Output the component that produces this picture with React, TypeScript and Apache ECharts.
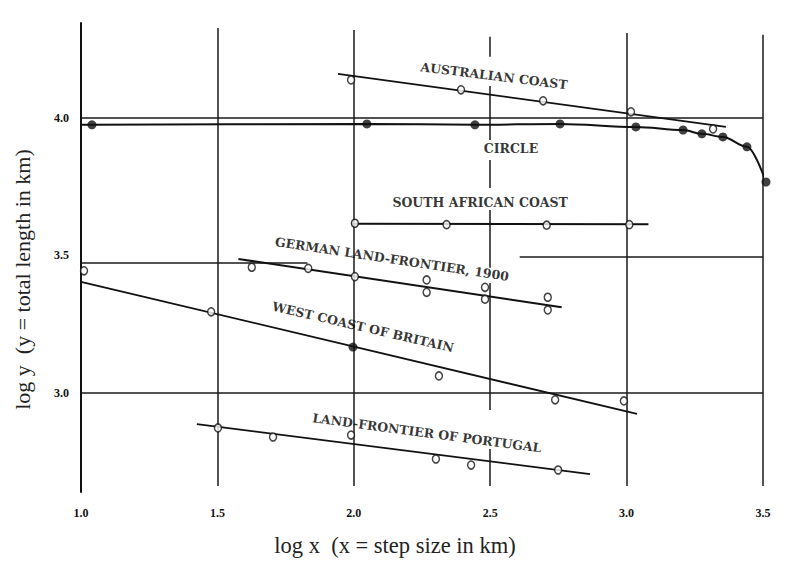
import React, { useEffect, useRef } from "react";
import * as echarts from "echarts";

// ---- axis ticks ----
const xTicks = [1.0, 1.5, 2.0, 2.5, 3.0, 3.5];
const yTicks = [3.0, 3.5, 4.0];

// ---- hand-drawn grid segments ----
// vertical: [x, yFrom, yTo]
const verticalGrid: number[][] = [
  [1.5, 2.662, 4.327],
  [2.0, 2.662, 4.32],
  [3.0, 2.662, 4.309],
  [3.5, 2.662, 4.302],
  [2.5, 4.222, 4.295],
  [2.5, 3.92, 4.116],
  [2.5, 3.745, 3.847],
  [2.5, 3.455, 3.665],
  [2.5, 2.938, 3.4],
  [2.5, 2.662, 2.796],
];
// horizontal: [y, xFrom, xTo]
const horizontalGrid: number[][] = [
  [4.0, 1.0, 3.5],
  [3.0, 1.0, 3.5],
  [3.475, 1.0, 1.83],
  [3.495, 2.608, 3.5],
];

// ---- Australian coast ----
const australianPoints = [
  [1.99, 4.138],
  [2.393, 4.102],
  [2.694, 4.062],
  [3.016, 4.022],
  [3.317, 3.96],
];
const australianFit = [
  [1.942, 4.16],
  [3.364, 3.967],
];

// ---- Circle ----
const circlePoints = [
  [1.04, 3.975],
  [2.048, 3.978],
  [2.444, 3.975],
  [2.756, 3.978],
  [3.034, 3.967],
  [3.207, 3.956],
  [3.276, 3.942],
  [3.353, 3.931],
  [3.441, 3.895],
  [3.511, 3.767],
];
const circleCurve = [[1.0, 3.975], ...circlePoints];

// ---- South African coast ----
const southAfricanPoints = [
  [2.004, 3.617],
  [2.34, 3.612],
  [2.707, 3.61],
  [3.01, 3.612],
];
const southAfricanFit = [
  [1.99, 3.615],
  [3.08, 3.613],
];

// ---- German land-frontier, 1900 ----
const germanPoints = [
  [1.626, 3.457],
  [1.833, 3.453],
  [2.004, 3.423],
  [2.267, 3.411],
  [2.267, 3.366],
  [2.481, 3.384],
  [2.481, 3.341],
  [2.711, 3.348],
  [2.711, 3.302],
];
const germanFit = [
  [1.577, 3.487],
  [2.762, 3.312],
];

// ---- West coast of Britain ----
const britainOpen = [
  [1.011, 3.444],
  [1.477, 3.295],
  [2.312, 3.062],
  [2.738, 2.975],
  [2.99, 2.971],
];
const britainFilled = [[1.997, 3.167]];
const britainFit = [
  [1.0, 3.404],
  [3.038, 2.924],
];

// ---- Land-frontier of Portugal ----
const portugalPoints = [
  [1.502, 2.873],
  [1.704, 2.84],
  [1.99, 2.847],
  [2.301, 2.76],
  [2.43, 2.738],
  [2.749, 2.72],
];
const portugalFit = [
  [1.425, 2.887],
  [2.866, 2.705],
];

// ---- curve labels ----
const curveLabels = [
  { name: "AUSTRALIAN COAST", at: [2.514, 4.153], rot: -7 },
  { name: "CIRCLE", at: [2.576, 3.887], rot: 0 },
  { name: "SOUTH AFRICAN COAST", at: [2.463, 3.691], rot: 0 },
  { name: "GERMAN LAND-FRONTIER, 1900", at: [2.14, 3.487], rot: -8.5 },
  { name: "WEST COAST OF BRITAIN", at: [2.034, 3.24], rot: -13 },
  { name: "LAND-FRONTIER OF PORTUGAL", at: [2.268, 2.855], rot: -7.5 },
];

const INK = "#111";
const SERIF = "'Liberation Serif', 'DejaVu Serif', serif";
const LABEL_FONT = "'DejaVu Serif', 'Liberation Serif', serif";

export default function App() {
  const ref = useRef<HTMLDivElement>(null);

  useEffect(() => {
    if (!ref.current) return;
    const chart = echarts.init(ref.current, undefined, { renderer: "svg" });

    const openSym = (data: number[][]) => ({
      type: "scatter",
      data,
      symbol: "circle",
      symbolSize: [7, 8],
      itemStyle: { color: "#fff", borderColor: INK, borderWidth: 1.5 },
      z: 5,
      clip: false,
      silent: true,
    });
    const filledSym = (data: number[][], size = 9) => ({
      type: "scatter",
      data,
      symbol: "circle",
      symbolSize: size,
      itemStyle: { color: INK },
      z: 5,
      clip: false,
      silent: true,
    });
    const fitLine = (data: number[][], width = 1.8) => ({
      type: "line",
      data,
      showSymbol: false,
      symbol: "none",
      lineStyle: { color: INK, width },
      z: 3,
      clip: false,
      silent: true,
    });

    const gridSeg = [
      ...verticalGrid.map((s) => [
        { coord: [s[0], s[1]] },
        { coord: [s[0], s[2]] },
      ]),
      ...horizontalGrid.map((s) => [
        { coord: [s[1], s[0]] },
        { coord: [s[2], s[0]] },
      ]),
    ];

    chart.setOption({
      animation: false,
      backgroundColor: "#fff",
      grid: { left: 81, right: 48, top: 23, bottom: 78 },
      xAxis: {
        type: "value",
        min: 1.0,
        max: 3.5,
        axisLine: { show: false },
        axisTick: { show: false },
        splitLine: { show: false },
        axisLabel: {
          customValues: xTicks,
          formatter: (v: number) => v.toFixed(1),
          fontFamily: SERIF,
          fontWeight: "bold",
          fontSize: 12,
          color: INK,
          margin: 15,
        },
        name: "log x  (x = step size in km)",
        nameLocation: "middle",
        nameGap: 42,
        nameTextStyle: {
          fontFamily: SERIF,
          fontSize: 22.5,
          color: "#222",
          padding: [0, 54, 0, 0],
        },
      },
      yAxis: {
        type: "value",
        min: 2.64,
        max: 4.345,
        axisLine: { show: true, lineStyle: { color: INK, width: 2 } },
        axisTick: { show: false },
        splitLine: { show: false },
        axisLabel: {
          customValues: yTicks,
          formatter: (v: number) => v.toFixed(1),
          fontFamily: SERIF,
          fontWeight: "bold",
          fontSize: 12,
          color: INK,
          margin: 12,
        },
        name: "log y  (y = total length in km)",
        nameLocation: "middle",
        nameGap: 48,
        nameTextStyle: {
          fontFamily: SERIF,
          fontSize: 22,
          color: "#222",
          padding: [0, 44, 0, 0],
        },
      },
      series: [
        {
          type: "line",
          data: [],
          silent: true,
          markLine: {
            silent: true,
            symbol: ["none", "none"],
            label: { show: false },
            lineStyle: { color: "#1a1a1a", width: 1.5, type: "solid" },
            data: gridSeg,
            z: 1,
          },
        },
        fitLine(australianFit),
        { ...fitLine(circleCurve, 2), smooth: 0.35, smoothMonotone: "x" },
        fitLine(southAfricanFit, 2),
        fitLine(germanFit, 2),
        fitLine(britainFit),
        fitLine(portugalFit),
        openSym(australianPoints),
        filledSym(circlePoints),
        openSym(southAfricanPoints),
        openSym(germanPoints),
        openSym(britainOpen),
        filledSym(britainFilled),
        openSym(portugalPoints),
        {
          type: "scatter",
          symbolSize: 0,
          silent: true,
          z: 6,
          data: curveLabels.map((l) => ({
            name: l.name,
            value: l.at,
            label: { rotate: l.rot },
          })),
          label: {
            show: true,
            position: "inside",
            formatter: (p: any) => p.name,
            fontFamily: LABEL_FONT,
            fontWeight: "bold",
            fontSize: 12.5,
            color: "#000",
            textBorderWidth: 0,
          },
        },
      ],
    });

    return () => chart.dispose();
  }, []);

  return (
    <div
      ref={ref}
      style={{ position: "fixed", left: 0, top: 0, width: 811, height: 570, background: "#fff" }}
    />
  );
}
